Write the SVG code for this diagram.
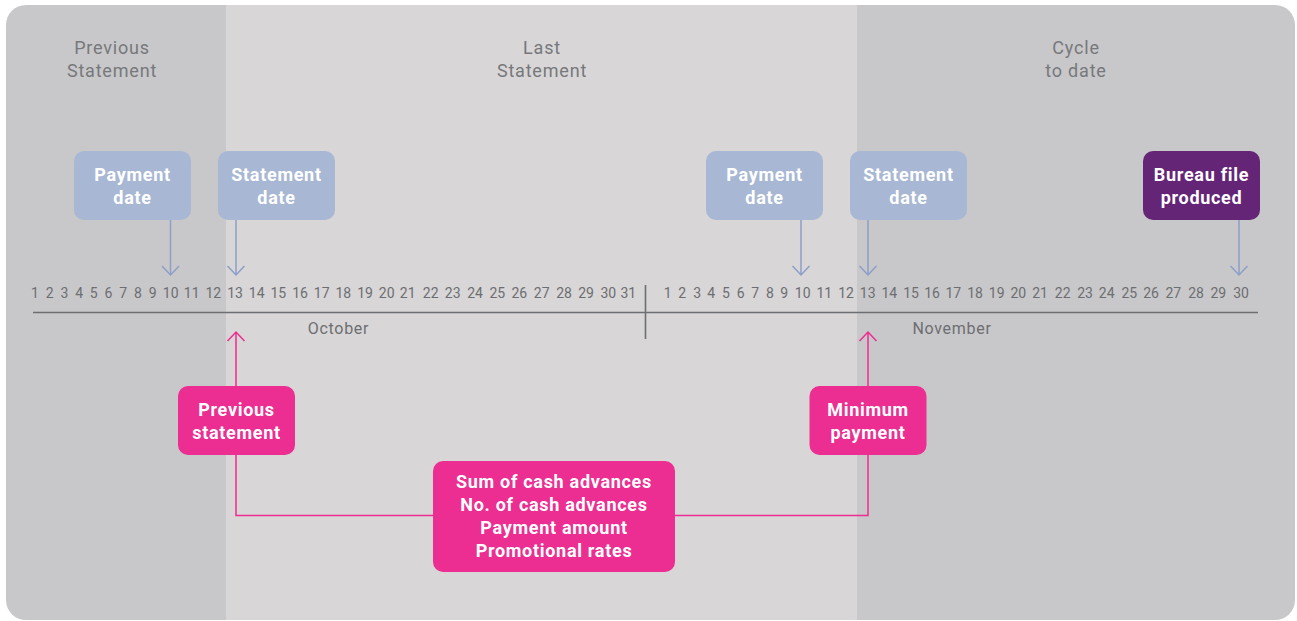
<svg xmlns="http://www.w3.org/2000/svg" width="1297" height="621" viewBox="0 0 1297 621">
  <style>
    .hdr { font-family: Roboto, "Liberation Sans", sans-serif; font-size: 18px; fill: #77787b; text-anchor: middle; letter-spacing: 0.8px; }
    .num { font-family: Roboto, "Liberation Sans", sans-serif; font-size: 14px; fill: #6d6e71; text-anchor: middle; }
    .num tspan { text-anchor: middle; }
    .mon { font-family: Roboto, "Liberation Sans", sans-serif; font-size: 16px; fill: #6d6e71; text-anchor: middle; letter-spacing: 0.7px; }
    .lbl { font-family: Roboto, "Liberation Sans", sans-serif; font-size: 18px; font-weight: bold; fill: #ffffff; text-anchor: middle; letter-spacing: 0.7px; }
    .blue { fill: #a8b7d3; }
    .purple { fill: #642577; }
    .pink { fill: #ec2d91; }
    .arrB { stroke: #8c9fc8; stroke-width: 1.5; fill: none; }
    .arrP { stroke: #ec2d91; stroke-width: 1.5; fill: none; }
  </style>
  <defs>
    <clipPath id="card">
      <rect x="6" y="5" width="1289" height="615" rx="20" ry="20"/>
    </clipPath>
  </defs>
  <rect width="1297" height="621" fill="#ffffff"/>
  <g id="panels" clip-path="url(#card)">
    <rect x="6" y="5" width="220" height="615" fill="#c8c8ca"/>
    <rect x="226" y="5" width="631" height="615" fill="#d8d6d7"/>
    <rect x="857" y="5" width="438" height="615" fill="#c8c8ca"/>
  </g>
  <g id="headers">
    <text class="hdr" x="112" y="54">Previous</text>
    <text class="hdr" x="112" y="77">Statement</text>
    <text class="hdr" x="542" y="54">Last</text>
    <text class="hdr" x="542" y="77">Statement</text>
    <text class="hdr" x="1076" y="54">Cycle</text>
    <text class="hdr" x="1076" y="77">to date</text>
  </g>
  <g id="timeline">
    <line x1="33" y1="312.5" x2="1258" y2="312.5" stroke="#6d6e71" stroke-width="1.6"/>
    <line x1="645.5" y1="285" x2="645.5" y2="339" stroke="#6d6e71" stroke-width="1.6"/>
    <text class="num" y="298"><tspan x="35">1</tspan><tspan x="49.7">2</tspan><tspan x="64.4">3</tspan><tspan x="79.1">4</tspan><tspan x="93.8">5</tspan><tspan x="108.5">6</tspan><tspan x="123.2">7</tspan><tspan x="137.9">8</tspan><tspan x="152.6">9</tspan><tspan x="170.7">10</tspan><tspan x="191.7">11</tspan><tspan x="213.3">12</tspan><tspan x="235">13</tspan><tspan x="256.7">14</tspan><tspan x="278.3">15</tspan><tspan x="300">16</tspan><tspan x="321.7">17</tspan><tspan x="343.3">18</tspan><tspan x="365">19</tspan><tspan x="386.7">20</tspan><tspan x="407.7">21</tspan><tspan x="430.7">22</tspan><tspan x="452.7">23</tspan><tspan x="475">24</tspan><tspan x="497.3">25</tspan><tspan x="519.3">26</tspan><tspan x="541.7">27</tspan><tspan x="564">28</tspan><tspan x="586">29</tspan><tspan x="608.3">30</tspan><tspan x="628.3">31</tspan></text>
    <text class="num" y="298"><tspan x="667.7">1</tspan><tspan x="682.3">2</tspan><tspan x="697.3">3</tspan><tspan x="711.3">4</tspan><tspan x="726">5</tspan><tspan x="740.7">6</tspan><tspan x="755.3">7</tspan><tspan x="770">8</tspan><tspan x="784.3">9</tspan><tspan x="802.7">10</tspan><tspan x="824.3">11</tspan><tspan x="846">12</tspan><tspan x="867.7">13</tspan><tspan x="889.3">14</tspan><tspan x="911">15</tspan><tspan x="932">16</tspan><tspan x="953.3">17</tspan><tspan x="975">18</tspan><tspan x="996.7">19</tspan><tspan x="1018.3">20</tspan><tspan x="1040">21</tspan><tspan x="1062.7">22</tspan><tspan x="1085">23</tspan><tspan x="1106.7">24</tspan><tspan x="1129.3">25</tspan><tspan x="1151">26</tspan><tspan x="1173.3">27</tspan><tspan x="1196">28</tspan><tspan x="1218.3">29</tspan><tspan x="1241">30</tspan></text>
    <text class="mon" x="338.5" y="334">October</text>
    <text class="mon" x="952" y="334">November</text>
  </g>
  <g id="connectors">
    <path class="arrB" d="M170.5 220 V275 M162 266 L170.5 275 L179 266"/>
    <path class="arrB" d="M236 220 V275 M227.5 266 L236 275 L244.5 266"/>
    <path class="arrB" d="M801 220 V275 M792.5 266 L801 275 L809.5 266"/>
    <path class="arrB" d="M868 220 V275 M859.5 266 L868 275 L876.5 266"/>
    <path class="arrB" d="M1239 220 V275 M1230.5 266 L1239 275 L1247.5 266"/>
    <path class="arrP" d="M236 386 V332 M227.5 341 L236 332 L244.5 341"/>
    <path class="arrP" d="M868 386 V332 M859.5 341 L868 332 L876.5 341"/>
    <path class="arrP" d="M236 455 V515.5 H433"/>
    <path class="arrP" d="M675 515.5 H868 V455"/>
  </g>
  <g id="payment-date-1">
    <rect class="blue" x="74" y="151" width="117" height="69" rx="10"/>
    <text class="lbl" x="132.5" y="181">Payment</text>
    <text class="lbl" x="132.5" y="204">date</text>
  </g>
  <g id="statement-date-1">
    <rect class="blue" x="218" y="151" width="117" height="69" rx="10"/>
    <text class="lbl" x="276.5" y="181">Statement</text>
    <text class="lbl" x="276.5" y="204">date</text>
  </g>
  <g id="payment-date-2">
    <rect class="blue" x="706" y="151" width="117" height="69" rx="10"/>
    <text class="lbl" x="764.5" y="181">Payment</text>
    <text class="lbl" x="764.5" y="204">date</text>
  </g>
  <g id="statement-date-2">
    <rect class="blue" x="850" y="151" width="117" height="69" rx="10"/>
    <text class="lbl" x="908.5" y="181">Statement</text>
    <text class="lbl" x="908.5" y="204">date</text>
  </g>
  <g id="bureau-file">
    <rect class="purple" x="1143" y="151" width="117" height="69" rx="10"/>
    <text class="lbl" x="1201.5" y="181">Bureau file</text>
    <text class="lbl" x="1201.5" y="204">produced</text>
  </g>
  <g id="previous-statement">
    <rect class="pink" x="178" y="386" width="117" height="69" rx="10"/>
    <text class="lbl" x="236.5" y="416">Previous</text>
    <text class="lbl" x="236.5" y="439">statement</text>
  </g>
  <g id="minimum-payment">
    <rect class="pink" x="809.5" y="386" width="117" height="69" rx="10"/>
    <text class="lbl" x="868" y="416">Minimum</text>
    <text class="lbl" x="868" y="439">payment</text>
  </g>
  <g id="cash-advances">
    <rect class="pink" x="433" y="461" width="242" height="111" rx="10"/>
    <text class="lbl" x="554" y="488">Sum of cash advances</text>
    <text class="lbl" x="554" y="511">No. of cash advances</text>
    <text class="lbl" x="554" y="534">Payment amount</text>
    <text class="lbl" x="554" y="557">Promotional rates</text>
  </g>
</svg>
